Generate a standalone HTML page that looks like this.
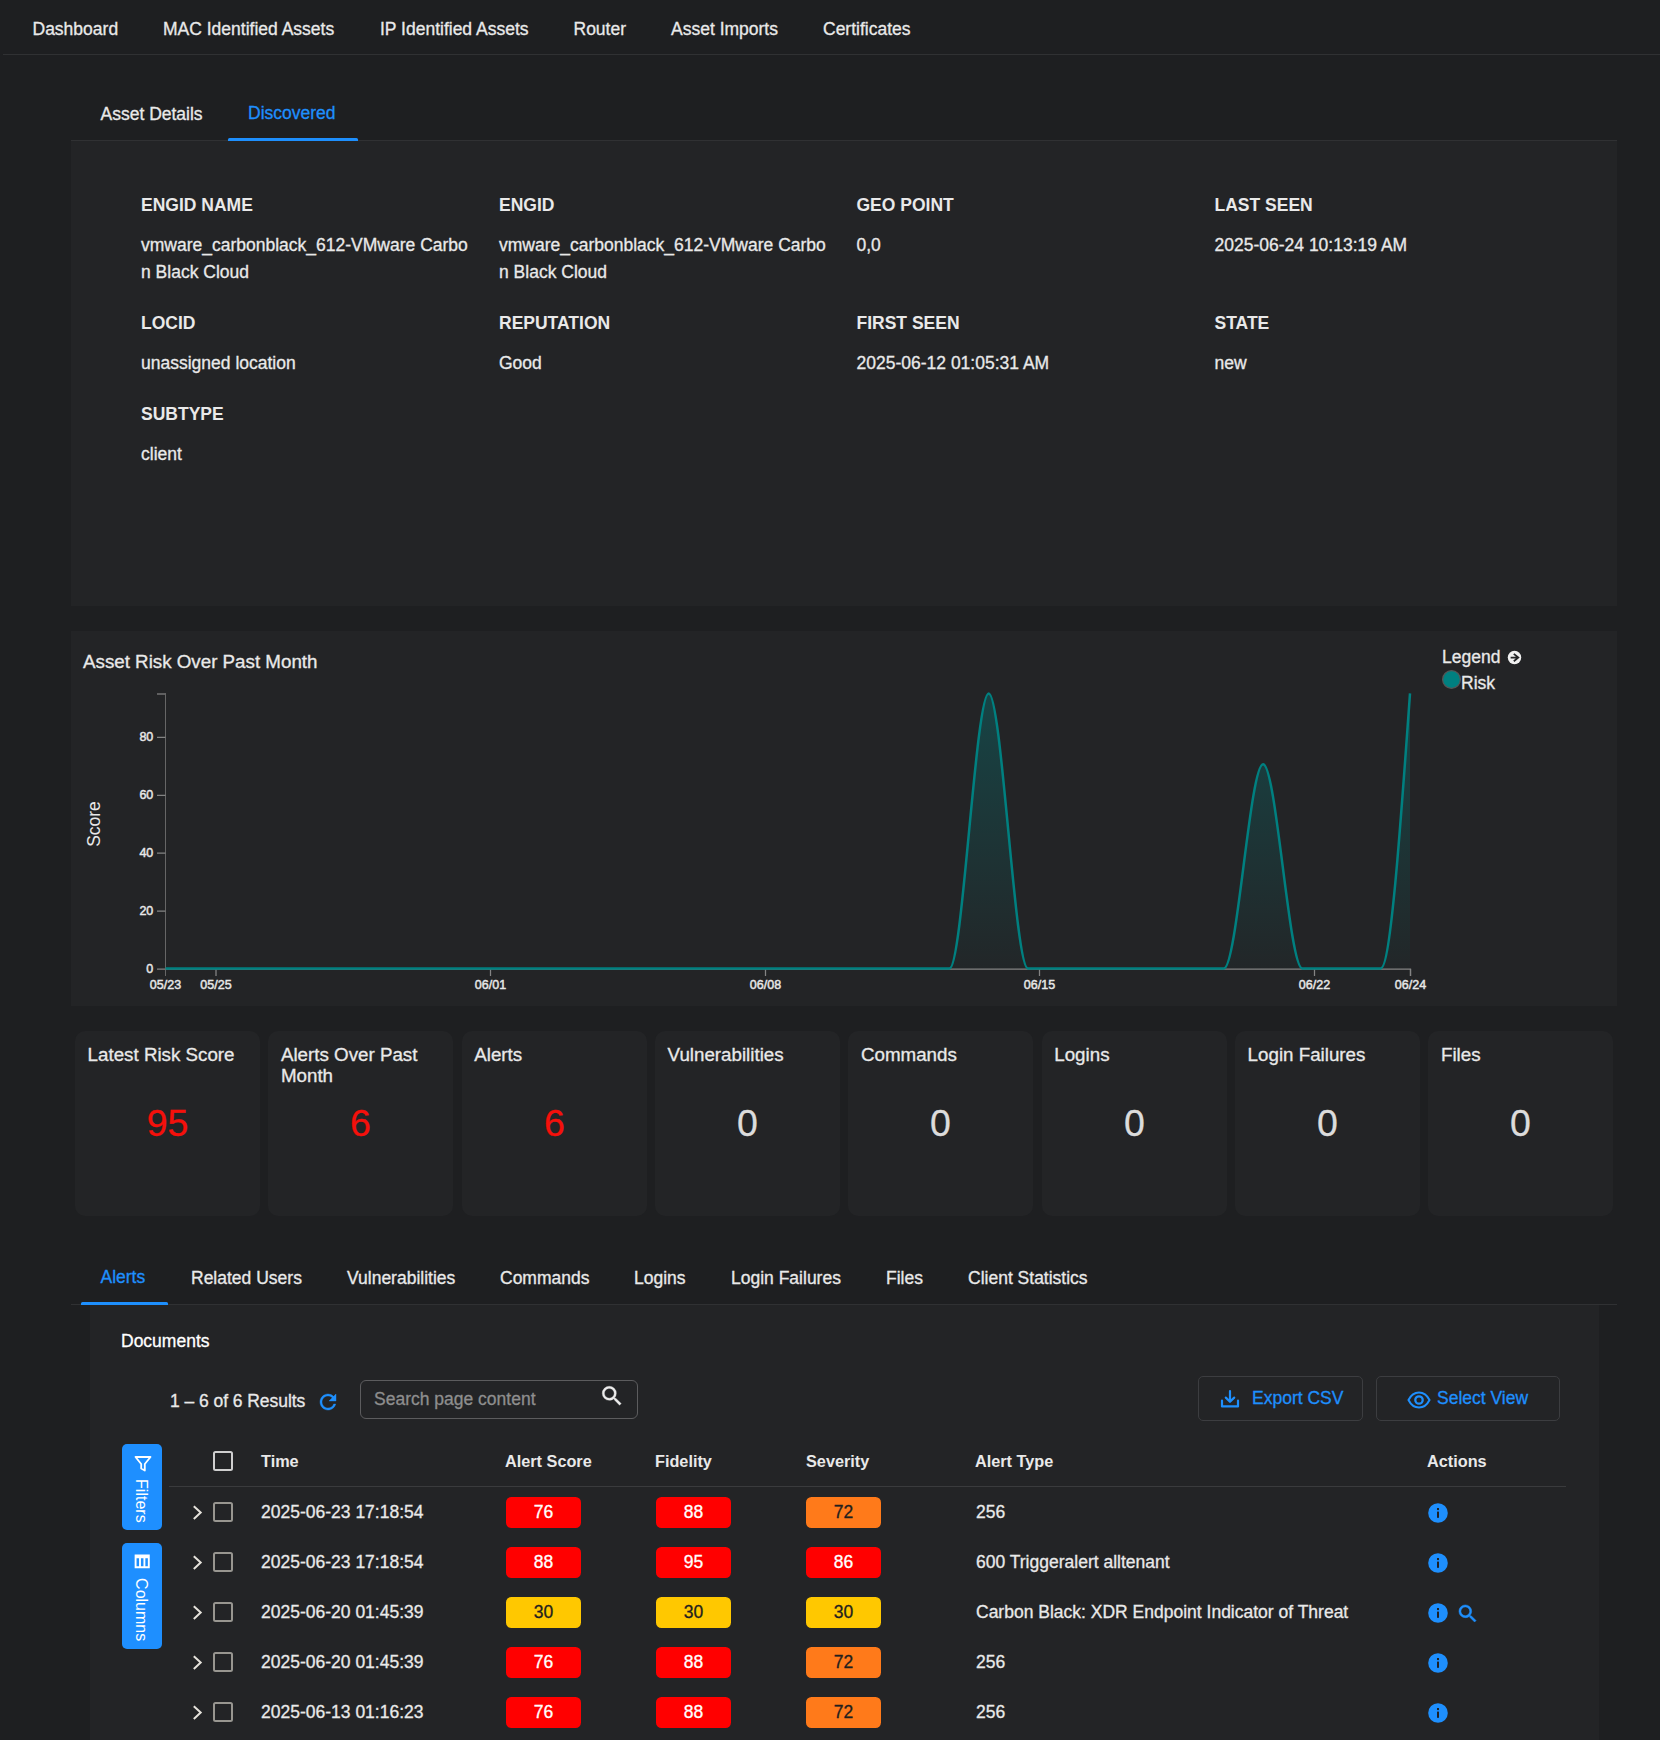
<!DOCTYPE html>
<html>
<head>
<meta charset="utf-8">
<title>Asset</title>
<style>
html,body{margin:0;padding:0;}
body{width:1660px;height:1740px;overflow:hidden;background:#1e1f21;color:#e9e9e9;font-family:"Liberation Sans",sans-serif;font-size:17.5px;position:relative;}
.t{-webkit-text-stroke:0.3px;position:absolute;white-space:nowrap;line-height:20px;font-size:17.5px;color:#e9e9e9;}
.b{font-weight:bold;-webkit-text-stroke:0;}
.blue{color:#1e8ffd;}
.box{position:absolute;}
.panel{position:absolute;background:#232426;}
.line{position:absolute;background:#303133;height:1px;}
.card{position:absolute;top:1031px;width:185px;height:185px;background:#232426;border-radius:10px;}
.card .h{-webkit-text-stroke:0.3px;position:absolute;left:12px;top:13px;font-size:18.75px;line-height:21px;color:#e9e9e9;}
.card .v{-webkit-text-stroke:0.3px;position:absolute;left:0;right:0;top:70px;text-align:center;font-size:37.5px;line-height:44px;color:#dcdcdc;}
.card .v.red{color:#f5100b;}
.badge{-webkit-text-stroke:0.3px;position:absolute;width:75px;height:31px;border-radius:5.5px;text-align:center;line-height:31px;font-size:17.5px;}
.r{background:#ff0000;color:#fff;}
.o{background:#ff7a1a;color:#1f1f1f;}
.y{background:#ffc800;color:#1f1f1f;}
.cb{position:absolute;width:16px;height:16px;border:2px solid #d9d9d9;border-radius:2.5px;box-sizing:content-box;}
</style>
</head>
<body>
<!-- top nav -->
<div class="t" style="left:32.5px;top:19px">Dashboard</div>
<div class="t" style="left:163px;top:19px">MAC Identified Assets</div>
<div class="t" style="left:380px;top:19px">IP Identified Assets</div>
<div class="t" style="left:573.5px;top:19px">Router</div>
<div class="t" style="left:671px;top:19px">Asset Imports</div>
<div class="t" style="left:823px;top:19px">Certificates</div>
<div class="line" style="left:3px;top:54px;width:1657px"></div>
<div class="t" style="left:100.5px;top:104px">Asset Details</div>
<div class="t blue" style="left:248px;top:103px">Discovered</div>
<div class="line" style="left:71px;top:140px;width:1546px"></div>
<div class="box" style="left:228px;top:138px;width:130px;height:3px;border-radius:1.5px 1.5px 0 0;background:#1e8ffd"></div>
<div class="panel" style="left:71px;top:141px;width:1546px;height:465px"></div>
<div class="t b" style="left:141px;top:195px">ENGID NAME</div>
<div class="t b" style="left:499px;top:195px">ENGID</div>
<div class="t b" style="left:856.5px;top:195px">GEO POINT</div>
<div class="t b" style="left:1214.5px;top:195px">LAST SEEN</div>
<div class="t" style="left:141px;top:232px;line-height:27px">vmware_carbonblack_612-VMware Carbo<br>n Black Cloud</div>
<div class="t" style="left:499px;top:232px;line-height:27px">vmware_carbonblack_612-VMware Carbo<br>n Black Cloud</div>
<div class="t" style="left:856.5px;top:232px;line-height:27px">0,0</div>
<div class="t" style="left:1214.5px;top:232px;line-height:27px">2025-06-24 10:13:19 AM</div>
<div class="t b" style="left:141px;top:313px">LOCID</div>
<div class="t b" style="left:499px;top:313px">REPUTATION</div>
<div class="t b" style="left:856.5px;top:313px">FIRST SEEN</div>
<div class="t b" style="left:1214.5px;top:313px">STATE</div>
<div class="t" style="left:141px;top:350px;line-height:27px">unassigned location</div>
<div class="t" style="left:499px;top:350px;line-height:27px">Good</div>
<div class="t" style="left:856.5px;top:350px;line-height:27px">2025-06-12 01:05:31 AM</div>
<div class="t" style="left:1214.5px;top:350px;line-height:27px">new</div>
<div class="t b" style="left:141px;top:404px">SUBTYPE</div>
<div class="t" style="left:141px;top:441px;line-height:27px">client</div>
<div class="panel" style="left:71px;top:631px;width:1546px;height:375px"></div>
<div class="t" style="left:83px;top:651px;font-size:18.75px;line-height:22px">Asset Risk Over Past Month</div>
<svg class="box" style="left:0;top:620px" width="1660" height="400" viewBox="0 620 1660 400">
<defs><linearGradient id="g" x1="0" y1="693" x2="0" y2="969" gradientUnits="userSpaceOnUse"><stop offset="0" stop-color="#008080" stop-opacity="0.35"/><stop offset="1" stop-color="#008080" stop-opacity="0.025"/></linearGradient></defs>
<g stroke="#848484" stroke-width="1.25" fill="none">
<path d="M157,694H166"/>
<path d="M165.5,693.4V976" stroke="#666" stroke-width="1"/>
<path d="M165.5,969H1410.5V976"/>
<path d="M157,969H165.5M157,911.11H165.5M157,853.21H165.5M157,795.32H165.5M157,737.42H165.5"/>
<path d="M216,969V976M490.5,969V976M765.5,969V976M1039.5,969V976M1314.5,969V976M1410.5,969V976"/>
</g>
<g font-family="Liberation Sans, sans-serif" font-size="12.5" fill="#e8e8e8" stroke="#e8e8e8" stroke-width="0.45"><text x="153.3" y="972.8" text-anchor="end">0</text><text x="153.3" y="914.91" text-anchor="end">20</text><text x="153.3" y="857.01" text-anchor="end">40</text><text x="153.3" y="799.12" text-anchor="end">60</text><text x="153.3" y="741.22" text-anchor="end">80</text><text x="165.5" y="989.2" text-anchor="middle">05/23</text><text x="216" y="989.2" text-anchor="middle">05/25</text><text x="490.5" y="989.2" text-anchor="middle">06/01</text><text x="765.5" y="989.2" text-anchor="middle">06/08</text><text x="1039.5" y="989.2" text-anchor="middle">06/15</text><text x="1314.5" y="989.2" text-anchor="middle">06/22</text><text x="1410.5" y="989.2" text-anchor="middle">06/24</text></g>
<text transform="translate(100,824) rotate(-90)" text-anchor="middle" font-family="Liberation Sans, sans-serif" font-size="17.5" fill="#e9e9e9">Score</text>
<path d="M165.5,968.45 L949.5,968.45 C962.57,968.45 975.63,693.45 988.7,693.45 C1001.77,693.45 1014.83,968.45 1027.9,968.45 L1223.9,968.45 C1236.97,968.45 1250.03,764.23 1263.1,764.23 C1276.17,764.23 1289.23,968.45 1302.3,968.45 L1380.7,968.45 C1390.47,968.45 1400.23,830.95 1410,693.45 L1410,968.45 L165.5,968.45 Z" fill="url(#g)"/>
<path d="M165.5,968.45 L949.5,968.45 C962.57,968.45 975.63,693.45 988.7,693.45 C1001.77,693.45 1014.83,968.45 1027.9,968.45 L1223.9,968.45 C1236.97,968.45 1250.03,764.23 1263.1,764.23 C1276.17,764.23 1289.23,968.45 1302.3,968.45 L1380.7,968.45 C1390.47,968.45 1400.23,830.95 1410,693.45" fill="none" stroke="#008080" stroke-width="2.5"/>
<circle cx="1451.5" cy="679.5" r="8.9" fill="#008080" stroke="#555" stroke-width="1.2"/>
<circle cx="1514.5" cy="657.5" r="6.75" fill="#f0f0f0"/>
<path d="M1510.600,657.600H1518M1513.800,653.900L1518.300,657.600L1513.800,661.300" stroke="#232426" stroke-width="1.800" fill="none"/>
</svg>
<div class="t" style="left:1442px;top:647px">Legend</div>
<div class="t" style="left:1461px;top:673px">Risk</div>
<div class="card" style="left:75px"><div class="h" style="left:12.6px">Latest Risk Score</div><div class="v red">95</div></div>
<div class="card" style="left:268px"><div class="h" style="left:12.93px">Alerts Over Past<br>Month</div><div class="v red">6</div></div>
<div class="card" style="left:462px"><div class="h" style="left:12.27px">Alerts</div><div class="v red">6</div></div>
<div class="card" style="left:655px"><div class="h" style="left:12.6px">Vulnerabilities</div><div class="v">0</div></div>
<div class="card" style="left:848px"><div class="h" style="left:12.93px">Commands</div><div class="v">0</div></div>
<div class="card" style="left:1042px"><div class="h" style="left:12.26px">Logins</div><div class="v">0</div></div>
<div class="card" style="left:1235px"><div class="h" style="left:12.6px">Login Failures</div><div class="v">0</div></div>
<div class="card" style="left:1428px"><div class="h" style="left:12.93px">Files</div><div class="v">0</div></div>
<div class="t blue" style="left:100.5px;top:1267px">Alerts</div>
<div class="t" style="left:191px;top:1268px">Related Users</div>
<div class="t" style="left:347px;top:1268px">Vulnerabilities</div>
<div class="t" style="left:500px;top:1268px">Commands</div>
<div class="t" style="left:634px;top:1268px">Logins</div>
<div class="t" style="left:731px;top:1268px">Login Failures</div>
<div class="t" style="left:886px;top:1268px">Files</div>
<div class="t" style="left:968px;top:1268px">Client Statistics</div>
<div class="line" style="left:71px;top:1304px;width:1546px"></div>
<div class="box" style="left:81px;top:1302px;width:87px;height:3px;border-radius:1.5px 1.5px 0 0;background:#1e8ffd"></div>
<div class="panel" style="left:90px;top:1305px;width:1509px;height:435px"></div>
<div class="t" style="left:121px;top:1331.3px;color:#fff">Documents</div>
<div class="t" style="left:170px;top:1390.6px;letter-spacing:-0.05px">1 – 6 of 6 Results</div>
<svg class="box" style="left:316px;top:1389.8px" width="24" height="24" viewBox="0 0 24 24"><path fill="#1e8ffd" stroke="#1e8ffd" stroke-width="0.4" d="M17.65 6.35A7.958 7.958 0 0 0 12 4c-4.42 0-7.990 3.580-7.990 8s3.570 8 7.990 8c3.730 0 6.840-2.550 7.730-6h-2.080A5.990 5.990 0 0 1 12 18c-3.310 0-6-2.690-6-6s2.690-6 6-6c1.660 0 3.140.69 4.220 1.780L13 11h7V4l-2.350 2.350z"/></svg>
<div class="box" style="left:360px;top:1380px;width:276px;height:37px;border:1px solid #5c5c5e;border-radius:6px"></div>
<div class="t" style="left:374px;top:1389px;color:#8e8e8e">Search page content</div>
<svg class="box" style="left:598.6px;top:1383px" width="26" height="26" viewBox="0 0 24 24"><path fill="#ececec" stroke="#ececec" stroke-width="0.3" d="M15.5 14h-.79l-.28-.27A6.471 6.471 0 0 0 16 9.5 6.5 6.5 0 1 0 9.5 16c1.61 0 3.09-.59 4.23-1.57l.27.28v.79l5 4.99L20.490 19l-4.990-5zm-6 0C7.010 14 5 11.990 5 9.500S7.010 5 9.500 5 14 7.010 14 9.500 11.990 14 9.500 14z"/></svg>
<div class="box" style="left:1198px;top:1376px;width:163px;height:43px;border:1px solid #3c3d40;border-radius:5px"></div>
<svg class="box" style="left:1220px;top:1389px" width="20" height="20" viewBox="0 0 20 20" fill="none" stroke="#1e8ffd" stroke-width="2.200" stroke-linecap="round" stroke-linejoin="round"><path d="M2,11.500V17.400H18V11.500M10,2.200V12.500M5.800,8.600L10,12.800L14.200,8.600"/></svg>
<div class="t blue" style="left:1252px;top:1388px">Export CSV</div>
<div class="box" style="left:1376px;top:1376px;width:182px;height:43px;border:1px solid #3c3d40;border-radius:5px"></div>
<svg class="box" style="left:1407px;top:1389px" width="24" height="22" viewBox="0 0 24 22" fill="none" stroke="#1e8ffd" stroke-width="2"><path d="M1.500,11C4,6 8,3.500 12,3.500S20,6 22.500,11C20,16 16,18.500 12,18.500S4,16 1.500,11Z"/><circle cx="12" cy="11" r="3.700" stroke-width="2.300"/></svg>
<div class="t blue" style="left:1437px;top:1388px">Select View</div>
<div class="box" style="left:122px;top:1444px;width:40px;height:86px;background:#1e8fff;border-radius:5px"></div>
<svg class="box" style="left:133.8px;top:1455px" width="18" height="18" viewBox="0 0 18 18" fill="none" stroke="#fff" stroke-width="1.800" stroke-linejoin="round"><path d="M1.500,2H16.500L10.800,9V15.500L7.200,13.500V9Z"/></svg>
<div class="t" style="left:142px;top:1480px;color:#fff;-webkit-text-stroke:0;transform-origin:0 0;transform:rotate(90deg) scale(0.915,0.96) translate(-1px,-10.2px)">Filters</div>
<div class="box" style="left:122px;top:1543px;width:40px;height:106px;background:#1e8fff;border-radius:5px"></div>
<svg class="box" style="left:134px;top:1554px" width="17" height="16" viewBox="0 0 17 16" fill="none" stroke="#fff" stroke-width="1.900"><path d="M1.600,1.500H14.800V13.200H1.600ZM1.600,3.400H14.800M6,4V13.200M10.400,4V13.200"/></svg>
<div class="t" style="left:142px;top:1579px;color:#fff;-webkit-text-stroke:0;transform-origin:0 0;transform:rotate(90deg) scale(0.915,0.96) translate(-1px,-10.2px)">Columns</div>
<div class="cb" style="left:213px;top:1451px;border-color:#cfcfcf"></div>
<div class="t b" style="left:261px;top:1451px;font-size:16.25px">Time</div>
<div class="t b" style="left:505px;top:1451px;font-size:16.25px">Alert Score</div>
<div class="t b" style="left:655px;top:1451px;font-size:16.25px">Fidelity</div>
<div class="t b" style="left:806px;top:1451px;font-size:16.25px">Severity</div>
<div class="t b" style="left:975px;top:1451px;font-size:16.25px">Alert Type</div>
<div class="t b" style="left:1427px;top:1451px;font-size:16.25px">Actions</div>
<div class="line" style="left:169px;top:1486px;width:1397px;background:#3a3b3d"></div>
<svg class="box" style="left:190px;top:1503px" width="14" height="18" viewBox="0 0 14 18" fill="none" stroke="#e6e3dc" stroke-width="2"><path d="M3.8,3.2L10.700,9.600L3.800,16"/></svg>
<div class="cb" style="left:213px;top:1502px;border-color:#989690"></div>
<div class="t" style="left:261px;top:1502px">2025-06-23 17:18:54</div>
<div class="badge r" style="left:506px;top:1497px">76</div>
<div class="badge r" style="left:656px;top:1497px">88</div>
<div class="badge o" style="left:806px;top:1497px">72</div>
<div class="t" style="left:976px;top:1502px">256</div>
<svg class="box" style="left:1427.8px;top:1503.3px" width="20" height="20" viewBox="0 0 20 20"><circle cx="10" cy="10" r="9.800" fill="#1e8ffd"/><rect x="9" y="8.6" width="2" height="6.2" fill="#1f2022"/><rect x="9" y="5" width="2" height="2.1" fill="#1f2022"/></svg>
<svg class="box" style="left:190px;top:1553px" width="14" height="18" viewBox="0 0 14 18" fill="none" stroke="#e6e3dc" stroke-width="2"><path d="M3.8,3.2L10.700,9.600L3.800,16"/></svg>
<div class="cb" style="left:213px;top:1552px;border-color:#989690"></div>
<div class="t" style="left:261px;top:1552px">2025-06-23 17:18:54</div>
<div class="badge r" style="left:506px;top:1547px">88</div>
<div class="badge r" style="left:656px;top:1547px">95</div>
<div class="badge r" style="left:806px;top:1547px">86</div>
<div class="t" style="left:976px;top:1552px">600 Triggeralert alltenant</div>
<svg class="box" style="left:1427.8px;top:1553.3px" width="20" height="20" viewBox="0 0 20 20"><circle cx="10" cy="10" r="9.800" fill="#1e8ffd"/><rect x="9" y="8.6" width="2" height="6.2" fill="#1f2022"/><rect x="9" y="5" width="2" height="2.1" fill="#1f2022"/></svg>
<svg class="box" style="left:190px;top:1603px" width="14" height="18" viewBox="0 0 14 18" fill="none" stroke="#e6e3dc" stroke-width="2"><path d="M3.8,3.2L10.700,9.600L3.800,16"/></svg>
<div class="cb" style="left:213px;top:1602px;border-color:#989690"></div>
<div class="t" style="left:261px;top:1602px">2025-06-20 01:45:39</div>
<div class="badge y" style="left:506px;top:1597px">30</div>
<div class="badge y" style="left:656px;top:1597px">30</div>
<div class="badge y" style="left:806px;top:1597px">30</div>
<div class="t" style="left:976px;top:1602px">Carbon Black: XDR Endpoint Indicator of Threat</div>
<svg class="box" style="left:1427.8px;top:1603.3px" width="20" height="20" viewBox="0 0 20 20"><circle cx="10" cy="10" r="9.800" fill="#1e8ffd"/><rect x="9" y="8.6" width="2" height="6.2" fill="#1f2022"/><rect x="9" y="5" width="2" height="2.1" fill="#1f2022"/></svg>
<svg class="box" style="left:1456px;top:1602px" width="23.5" height="23.5" viewBox="0 0 24 24"><path fill="#1e8ffd" stroke="#1e8ffd" stroke-width="0.5" d="M15.5 14h-.79l-.28-.27A6.471 6.471 0 0 0 16 9.5 6.5 6.5 0 1 0 9.5 16c1.61 0 3.09-.59 4.23-1.57l.27.28v.79l5 4.99L20.490 19l-4.990-5zm-6 0C7.010 14 5 11.990 5 9.500S7.010 5 9.500 5 14 7.010 14 9.500 11.990 14 9.500 14z"/></svg>
<svg class="box" style="left:190px;top:1653px" width="14" height="18" viewBox="0 0 14 18" fill="none" stroke="#e6e3dc" stroke-width="2"><path d="M3.8,3.2L10.700,9.600L3.800,16"/></svg>
<div class="cb" style="left:213px;top:1652px;border-color:#989690"></div>
<div class="t" style="left:261px;top:1652px">2025-06-20 01:45:39</div>
<div class="badge r" style="left:506px;top:1647px">76</div>
<div class="badge r" style="left:656px;top:1647px">88</div>
<div class="badge o" style="left:806px;top:1647px">72</div>
<div class="t" style="left:976px;top:1652px">256</div>
<svg class="box" style="left:1427.8px;top:1653.3px" width="20" height="20" viewBox="0 0 20 20"><circle cx="10" cy="10" r="9.800" fill="#1e8ffd"/><rect x="9" y="8.6" width="2" height="6.2" fill="#1f2022"/><rect x="9" y="5" width="2" height="2.1" fill="#1f2022"/></svg>
<svg class="box" style="left:190px;top:1703px" width="14" height="18" viewBox="0 0 14 18" fill="none" stroke="#e6e3dc" stroke-width="2"><path d="M3.8,3.2L10.700,9.600L3.800,16"/></svg>
<div class="cb" style="left:213px;top:1702px;border-color:#989690"></div>
<div class="t" style="left:261px;top:1702px">2025-06-13 01:16:23</div>
<div class="badge r" style="left:506px;top:1697px">76</div>
<div class="badge r" style="left:656px;top:1697px">88</div>
<div class="badge o" style="left:806px;top:1697px">72</div>
<div class="t" style="left:976px;top:1702px">256</div>
<svg class="box" style="left:1427.8px;top:1703.3px" width="20" height="20" viewBox="0 0 20 20"><circle cx="10" cy="10" r="9.800" fill="#1e8ffd"/><rect x="9" y="8.6" width="2" height="6.2" fill="#1f2022"/><rect x="9" y="5" width="2" height="2.1" fill="#1f2022"/></svg>
</body>
</html>
